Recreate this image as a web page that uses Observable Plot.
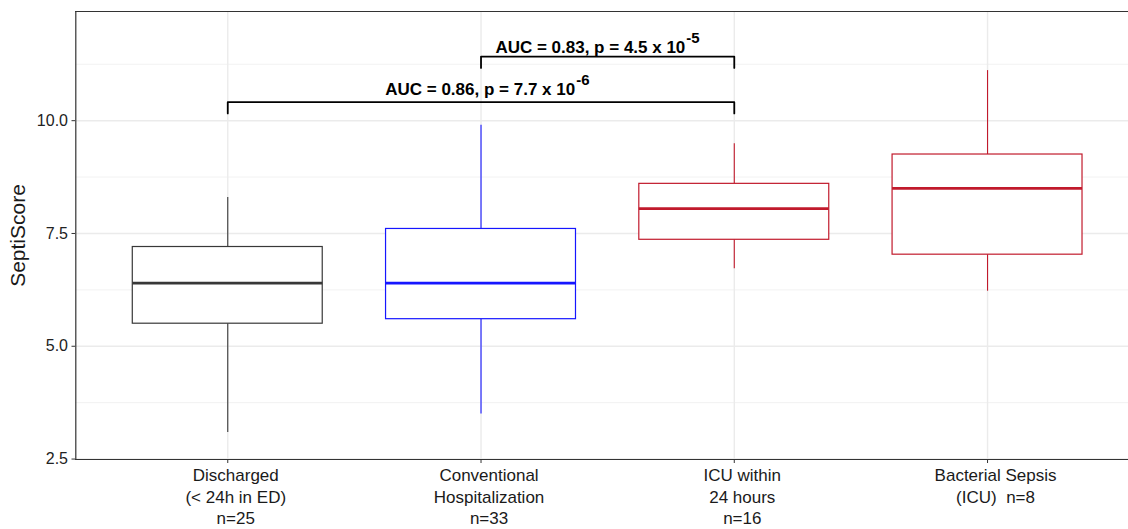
<!DOCTYPE html>
<html><head><meta charset="utf-8">
<script src="https://cdn.jsdelivr.net/npm/d3@7"></script>
<script src="https://cdn.jsdelivr.net/npm/@observablehq/plot@0.6"></script>
<style>
body{margin:0;background:#fff;overflow:hidden}
svg{display:block}
</style>
</head><body><div id="chart"></div>
<script>
// categories and box statistics
const groups = ["Discharged\n(< 24h in ED)\nn=25", "Conventional\nHospitalization\nn=33", "ICU within\n24 hours\nn=16", "Bacterial Sepsis\n(ICU)  n=8"];
const groupIndex = [1, 2, 3, 4];
const whiskerLow = [3.09, 3.50, 6.72, 6.22];
const q1 = [5.50, 5.60, 7.36, 7.03];
const median = [6.40, 6.40, 8.05, 8.50];
const q3 = [7.20, 7.60, 8.60, 9.25];
const whiskerHigh = [8.30, 9.90, 9.49, 11.11];
const groupColors = ["#383838", "#1616ff", "#c11a2c", "#c11a2c"];

// axis ticks
const yTicks = [2.5, 5, 7.5, 10];
const yMinorTicks = [3.75, 6.25, 8.75, 11.25];
const yDomain = [2.49, 12.42];
const xDomain = [0.4, 4.6];

// significance brackets
const bracketFrom = [1, 2];
const bracketTo = [3, 3];
const bracketTop = [10.41, 11.42];
const bracketFoot = [10.16, 11.17];
const labelX = [2.025, 2.46];
const labelY = [10.57, 11.51];
const labelBase = ["AUC = 0.86, p = 7.7 x 10", "AUC = 0.83, p = 4.5 x 10"];
const labelExp = ["-6", "-5"];

const boxHalf = 0.375;
const boxes = groupIndex.map((g, i) => ({
  g, lo: whiskerLow[i], q1: q1[i], med: median[i], q3: q3[i], hi: whiskerHigh[i], color: groupColors[i]
}));
const bracketPts = [];
bracketFrom.forEach((f, i) => {
  bracketPts.push({b: i, x: f, y: bracketFoot[i]});
  bracketPts.push({b: i, x: f, y: bracketTop[i]});
  bracketPts.push({b: i, x: bracketTo[i], y: bracketTop[i]});
  bracketPts.push({b: i, x: bracketTo[i], y: bracketFoot[i]});
});
const labels = labelBase.map((t, i) => ({x: labelX[i], y: labelY[i], t}));

const plot = Plot.plot({
  width: 1128,
  height: 529,
  marginTop: 11,
  marginBottom: 70,
  marginLeft: 75,
  marginRight: 0,
  style: {fontFamily: "'Liberation Sans', Arial, Helvetica, sans-serif", background: "#fff"},
  x: {domain: xDomain, range: [75.3, 1139], axis: null},
  y: {domain: yDomain, axis: null},
  color: {type: "identity"},
  marks: [
    Plot.ruleY(yMinorTicks, {stroke: "#f2f2f2", strokeWidth: 1}),
    Plot.ruleY(yTicks, {stroke: "#ebebeb", strokeWidth: 1.4}),
    Plot.ruleX(groupIndex, {stroke: "#ebebeb", strokeWidth: 1.4}),
    Plot.ruleX(boxes, {x: "g", y1: "lo", y2: "q1", stroke: "color", strokeWidth: 1.1}),
    Plot.ruleX(boxes, {x: "g", y1: "q3", y2: "hi", stroke: "color", strokeWidth: 1.1}),
    Plot.rect(boxes, {x1: d => d.g - boxHalf, x2: d => d.g + boxHalf, y1: "q1", y2: "q3", fill: "#fff", stroke: "color", strokeWidth: 1.2}),
    Plot.ruleY(boxes, {y: "med", x1: d => d.g - boxHalf, x2: d => d.g + boxHalf, stroke: "color", strokeWidth: 2.6}),
    Plot.line(bracketPts, {x: "x", y: "y", z: "b", stroke: "#000", strokeWidth: 1.8, curve: "linear"}),
    Plot.text(labels, {x: "x", y: "y", text: "t", fontSize: 17, fontWeight: "bold", fill: "#000", lineAnchor: "bottom", textAnchor: "middle"}),
    // panel border / axis lines
    Plot.ruleX([xDomain[0]], {stroke: "#333", strokeWidth: 1.2}),
    Plot.ruleY([yDomain[0]], {stroke: "#333", strokeWidth: 1.2}),
    Plot.ruleY([yDomain[1]], {stroke: "#333", strokeWidth: 1.2}),
    // axes
    Plot.axisY(yTicks, {tickSize: 3.5, tickPadding: 4, fontSize: 16, tickFormat: d3.format(".1f"), stroke: "#333", fill: "#222", label: null}),
    Plot.axisX(groupIndex, {tickSize: 4, stroke: "#333", tickFormat: () => "", label: null}),
    Plot.axisX(groupIndex, {tickSize: 0, tickPadding: 7, dx: 8, fontSize: 17, lineHeight: 1.24, fill: "#1a1a1a", tickFormat: i => groups[i - 1], label: null}),
    Plot.text([0], {frameAnchor: "left", dx: -57, rotate: -90, text: () => "SeptiScore", fontSize: 21, fill: "#1a1a1a", textAnchor: "middle", lineAnchor: "middle"})
  ]
});

// add superscript exponents to the AUC labels
plot.querySelectorAll("text").forEach(el => {
  const idx = labelBase.indexOf(el.textContent);
  if (idx >= 0) {
    const ts = document.createElementNS("http://www.w3.org/2000/svg", "tspan");
    ts.setAttribute("dy", "-10");
    ts.setAttribute("dx", "1");
    ts.setAttribute("font-size", "15");
    ts.style.fontSize = "15px";
    ts.textContent = labelExp[idx];
    el.appendChild(ts);
  }
});

document.getElementById("chart").appendChild(plot);
</script>
</body></html>
